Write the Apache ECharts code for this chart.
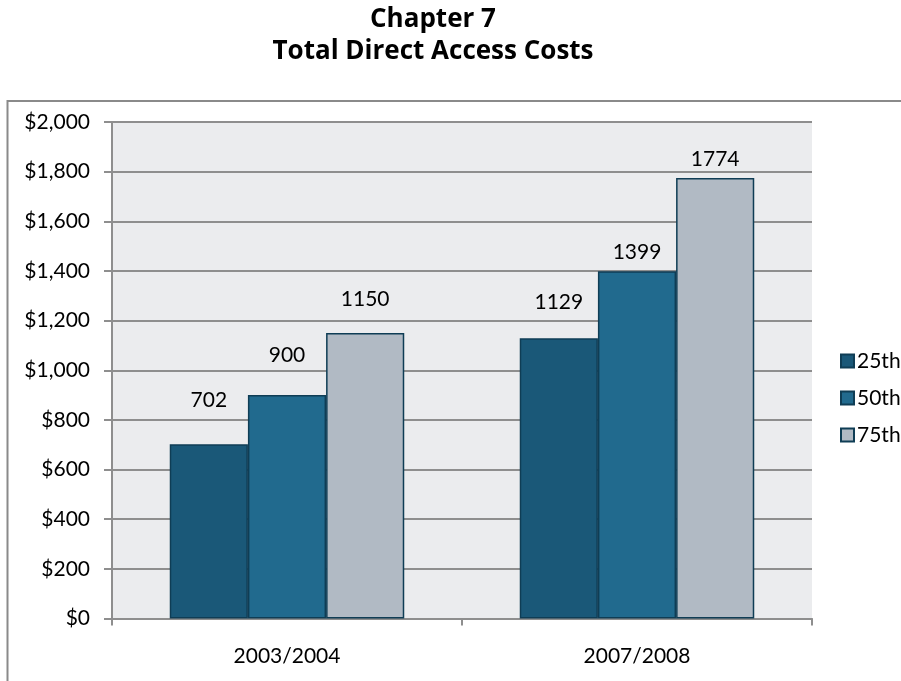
<!DOCTYPE html>
<html>
<head>
<meta charset="utf-8">
<title>Chapter 7 Total Direct Access Costs</title>
<script src="https://cdn.jsdelivr.net/npm/echarts@6/dist/echarts.min.js"></script>
<style>
  html, body { margin: 0; padding: 0; background: #ffffff; }
  #chart { width: 901px; height: 681px; }
</style>
</head>
<body>
<div id="chart"></div>
<script>
// Survey periods on the category axis
const periods = ['2003/2004', '2007/2008'];

// Percentile series (dollars)
const p25 = [702, 1129];
const p50 = [900, 1399];
const p75 = [1150, 1774];

const seriesNames = ['25th', '50th', '75th'];

// Y axis range
const yMin = 0;
const yMax = 2000;
const yStep = 200;

// Extra space between each bar top and its value label
const labelLift = [
  [33, 25],
  [29, 8],
  [23, 8]
];

const fillColors = ['#1a5878', '#216a8e', '#b1bac4'];
const edgeColor = '#0f3d55';
const gridGray = '#8e8e8e';
const fontFamily = 'Lato, "Open Sans", sans-serif';
const titleFont = '"Open Sans", Lato, sans-serif';

function money(v) {
  return '$' + v.toString().replace(/\B(?=(\d{3})+(?!\d))/g, ',');
}

const chart = echarts.init(document.getElementById('chart'), null, { renderer: 'canvas' });

const allValues = [p25, p50, p75];

const series = allValues.map((vals, s) => ({
  name: seriesNames[s],
  type: 'bar',
  barGap: '0%',
  barCategoryGap: '33%',
  itemStyle: {
    color: fillColors[s],
    borderColor: edgeColor,
    borderWidth: 1.5
  },
  label: {
    show: true,
    position: 'top',
    color: '#000000',
    fontFamily: fontFamily,
    fontSize: 21,
    lineHeight: 22
  },
  data: vals.map((v, i) => ({
    value: v,
    label: { distance: labelLift[s][i] }
  }))
}));

chart.setOption({
  animation: false,
  backgroundColor: '#ffffff',
  graphic: [
    {
      // two-line heading, centred over the chart body
      type: 'text',
      silent: true,
      x: 433,
      y: 4,
      style: {
        text: 'Chapter 7\nTotal Direct Access Costs',
        align: 'center',
        verticalAlign: 'top',
        fontFamily: titleFont,
        fontWeight: 'bold',
        fontSize: 26,
        lineHeight: 32,
        fill: '#000000'
      }
    },
    {
      // outer chart frame
      type: 'rect',
      silent: true,
      z: -1,
      shape: { x: 7.5, y: 101, width: 910, height: 600 },
      style: { fill: 'none', stroke: '#8a8a8a', lineWidth: 2 }
    }
  ],
  legend: {
    orient: 'vertical',
    left: 835,
    top: 345,
    itemWidth: 13,
    itemHeight: 13,
    itemGap: 15,
    icon: 'rect',
    data: seriesNames,
    textStyle: {
      fontFamily: fontFamily,
      fontSize: 21,
      lineHeight: 22,
      color: '#000000',
      padding: [0, 0, 0, -2]
    }
  },
  grid: {
    left: 112,
    right: 89,
    top: 122,
    bottom: 62.5,
    containLabel: false,
    show: true,
    backgroundColor: '#ebecee',
    borderWidth: 0
  },
  xAxis: {
    type: 'category',
    data: periods,
    axisLine: { show: true, lineStyle: { color: gridGray, width: 2 } },
    axisTick: { show: true, length: 7, lineStyle: { color: gridGray, width: 2 } },
    axisLabel: {
      margin: 27,
      color: '#000000',
      fontFamily: fontFamily,
      fontSize: 21
    }
  },
  yAxis: {
    type: 'value',
    min: yMin,
    max: yMax,
    interval: yStep,
    axisLine: { show: true, lineStyle: { color: gridGray, width: 2 } },
    axisTick: { show: true, length: 8, lineStyle: { color: gridGray, width: 2 } },
    splitLine: { show: true, lineStyle: { color: gridGray, width: 2 } },
    axisLabel: {
      margin: 22,
      color: '#000000',
      fontFamily: fontFamily,
      fontSize: 21,
      formatter: money
    }
  },
  series: series
});
</script>
</body>
</html>
